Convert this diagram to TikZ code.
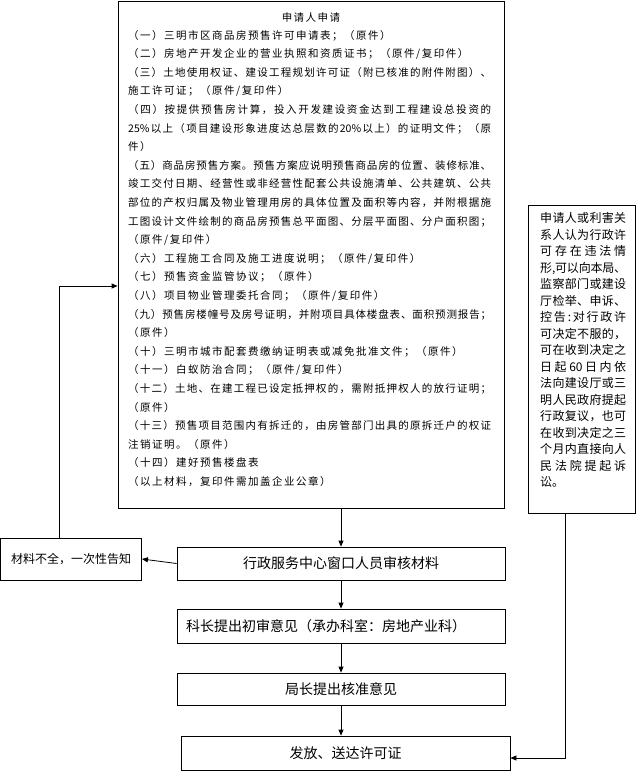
\documentclass[tikz,border=0pt]{standalone}
\usepackage{fontspec}
\setmainfont{Noto Sans CJK SC}
\usetikzlibrary{arrows.meta,positioning}
% spaced line and justified line of CJK text
\ExplSyntaxOn
\NewDocumentCommand \sline { m } { \mode_leave_vertical: \tl_map_inline:nn {#1} { ##1 \skip_horizontal:n { 1.5pt } } }
\NewDocumentCommand \jline { O{363pt} m }
  { \mode_leave_vertical: \hbox_to_wd:nn {#1} { \tl_map_inline:nn {#2} { ##1 \skip_horizontal:n { 0pt plus 1fil minus 0.5pt } } \unskip } }
\ExplSyntaxOff

\begin{document}
\begin{tikzpicture}[x=1pt,y=-1pt,
    box/.style={draw,line width=0.8pt,inner sep=0pt,font=\fontsize{14pt}{16pt}\selectfont},
    arr/.style={line width=0.8pt,-{Triangle[length=6pt,width=5pt]}}]
  \useasboundingbox (0,0) rectangle (636,771);
  % application materials
  \node[draw,line width=0.8pt,minimum width=386pt,minimum height=507pt] (apply) at (311,254.5) {};
  \node[anchor=base,inner sep=0pt,font=\fontsize{10.5pt}{18.6pt}\selectfont] (title) at (311,21) {\sline{申请人申请}};
  \node[anchor=base west,inner sep=0pt,text width=363pt,align=left,
        font=\fontsize{10.5pt}{18.6pt}\selectfont] (items) at (128,39) {%
    \sline{（一）三明市区商品房预售许可申请表；（原件）}\\
    \sline{（二）房地产开发企业的营业执照和资质证书；（原件/复印件）}\\
    \jline{（三）土地使用权证、建设工程规划许可证（附已核准的附件附图）、}\\
    \sline{施工许可证；（原件/复印件）}\\
    \jline{（四）按提供预售房计算，投入开发建设资金达到工程建设总投资的}\\
    \jline{{25\%}以上（项目建设形象进度达总层数的{20\%}以上）的证明文件；（原}\\
    \sline{件）}\\
    \jline{（五）商品房预售方案。预售方案应说明预售商品房的位置、装修标准、}\\
    \jline{竣工交付日期、经营性或非经营性配套公共设施清单、公共建筑、公共}\\
    \jline{部位的产权归属及物业管理用房的具体位置及面积等内容，并附根据施}\\
    \jline{工图设计文件绘制的商品房预售总平面图、分层平面图、分户面积图；}\\
    \sline{（原件/复印件）}\\
    \sline{（六）工程施工合同及施工进度说明；（原件/复印件）}\\
    \sline{（七）预售资金监管协议；（原件）}\\
    \sline{（八）项目物业管理委托合同；（原件/复印件）}\\
    \jline{（九）预售房楼幢号及房号证明，并附项目具体楼盘表、面积预测报告；}\\
    \sline{（原件）}\\
    \sline{（十）三明市城市配套费缴纳证明表或减免批准文件；（原件）}\\
    \sline{（十一）白蚁防治合同；（原件/复印件）}\\
    \jline{（十二）土地、在建工程已设定抵押权的，需附抵押权人的放行证明；}\\
    \sline{（原件）}\\
    \jline{（十三）预售项目范围内有拆迁的，由房管部门出具的原拆迁户的权证}\\
    \sline{注销证明。（原件）}\\
    \sline{（十四）建好预售楼盘表}\\
    \sline{（以上材料，复印件需加盖企业公章）}};
  % appeal note
  \node[draw,line width=0.8pt,minimum width=107pt,minimum height=308pt] (appeal) at (581.5,359) {};
  \node[anchor=base west,inner sep=0pt,text width=86pt,align=left,
        font=\fontsize{12pt}{16.5pt}\selectfont] (rights) at (540,222.5) {%
    \jline[86pt]{申请人或利害关}\\
    \jline[86pt]{系人认为行政许}\\
    \jline[86pt]{可存在违法情}\\
    \jline[86pt]{形,可以向本局、}\\
    \jline[86pt]{监察部门或建设}\\
    \jline[86pt]{厅检举、申诉、}\\
    \jline[86pt]{控告:对行政许}\\
    \jline[86pt]{可决定不服的，}\\
    \jline[86pt]{可在收到决定之}\\
    \jline[86pt]{日起{60}日内依}\\
    \jline[86pt]{法向建设厅或三}\\
    \jline[86pt]{明人民政府提起}\\
    \jline[86pt]{行政复议，也可}\\
    \jline[86pt]{在收到决定之三}\\
    \jline[86pt]{个月内直接向人}\\
    \jline[86pt]{民法院提起诉}\\
    讼。};
  % process boxes
  \node[box,minimum width=328pt,minimum height=33pt] (check) at (341,563.5) {行政服务中心窗口人员审核材料};
  \node[box,minimum width=141pt,minimum height=42pt,font=\fontsize{12pt}{14pt}\selectfont] (lack) at (71,559) {材料不全，一次性告知};
  \node[box,minimum width=328pt,minimum height=34pt,text width=310pt,inner xsep=9pt,align=left] (first) at (341,626) {科长提出初审意见（承办科室：房地产业科）};
  \node[box,minimum width=328pt,minimum height=32pt] (final) at (341,689) {局长提出核准意见};
  \node[box,minimum width=329pt,minimum height=34pt] (issue) at (345.5,753) {发放、送达许可证};
  % connectors
  \coordinate (back) at (59,286);
  \coordinate (drop) at (565,758);
  \draw[arr] (apply.south -| check.north) -- (check.north);
  \draw[arr] (check.west) -- (lack.east);
  \draw[arr] (lack.north -| back) |- (apply.west |- back);
  \draw[arr] (check.south) -- (first.north);
  \draw[arr] (first.south) -- (final.north);
  \draw[arr] (final.south) -- (final.south |- issue.north);
  \draw[arr] (appeal.south -| drop) |- (issue.east |- drop);
\end{tikzpicture}
\end{document}
